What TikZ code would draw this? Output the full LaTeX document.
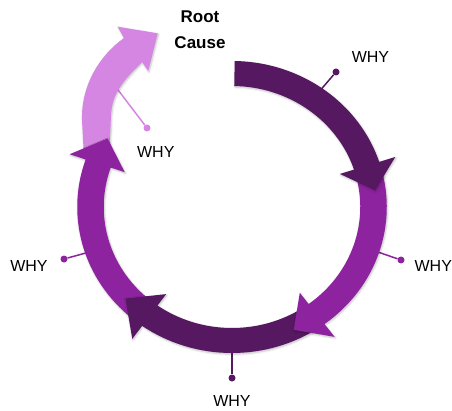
\documentclass[tikz,border=0pt]{standalone}
\usepackage{fontspec}
\setmainfont{Liberation Sans}
\usetikzlibrary{shadows.blur}
\definecolor{darkp}{RGB}{86,24,96}
\definecolor{midp}{RGB}{142,35,160}
\definecolor{lightp}{RGB}{213,133,226}
\tikzset{
  seg/.style={blur shadow={shadow xshift=0.8pt,shadow yshift=-1.2pt,shadow blur radius=2pt,shadow opacity=25}},
  dot/.style={circle,fill,inner sep=0pt,minimum size=7pt},
  lead/.style={line width=1.5pt},
  why/.style={font=\fontsize{16}{19}\selectfont,inner sep=0pt}
}
\begin{document}
\begin{tikzpicture}[x=1pt,y=1pt]
  \useasboundingbox (0,0) rectangle (452,410);
  \coordinate (c) at (232,203);

  \coordinate (r1) at (318,317); \node[dot,darkp] (d1) at (336,338) {};
  \coordinate (r2) at (372,160); \node[dot,midp] (d2) at (401,150) {};
  \coordinate (r3) at (232,65);  \node[dot,darkp] (d3) at (232,32) {};
  \coordinate (r4) at (93,159);  \node[dot,midp] (d4) at (64,151) {};
  \coordinate (r5) at (112,328); \node[dot,lightp] (d5) at (147,282) {};
  \draw[lead,darkp] (r1) -- (d1);
  \draw[lead,midp] (r2) -- (d2);
  \draw[lead,darkp] (r3) -- (d3);
  \draw[lead,midp] (r4) -- (d4);
  \draw[lead,lightp] (r5) -- (d5);

  \node[why] (w1) at (370.5,353.5) {WHY};
  \node[why] (w2) at (433.3,144) {WHY};
  \node[why] (w3) at (232,9) {WHY};
  \node[why] (w4) at (29,144) {WHY};
  \node[why] (w5) at (155.8,258.3) {WHY};
  \node[font=\fontsize{17}{26}\selectfont\bfseries,align=center,inner sep=0pt] (rc) at (200,380.3) {Root\\Cause};

  \fill[lightp,seg] (84,252) -- (82,290) .. controls (81,325) and (100,355) .. (124,372)
    -- (117.7,383.3) -- (157.7,376.7) -- (148.3,339)
    -- (142,348) .. controls (125,331) and (112,318) .. (111,295) -- (109,250) -- cycle;
  \begin{scope}[shift={(c)},xscale=1.06]
    \foreach \s/\e/\t/\col in {232.5/161/149.7/midp, 304.5/234.5/222.3/darkp, 16/-53.3/-64.6/midp, 89/18/7/darkp}
      \fill[fill=\col,seg] (\s:146) arc[start angle=\s,end angle=\e,radius=146] -- (\e:162) -- (\t:136)
        -- (\e:107) -- (\e:121) arc[start angle=\e,end angle=\s,radius=121] -- cycle;
  \end{scope}
\end{tikzpicture}
\end{document}
